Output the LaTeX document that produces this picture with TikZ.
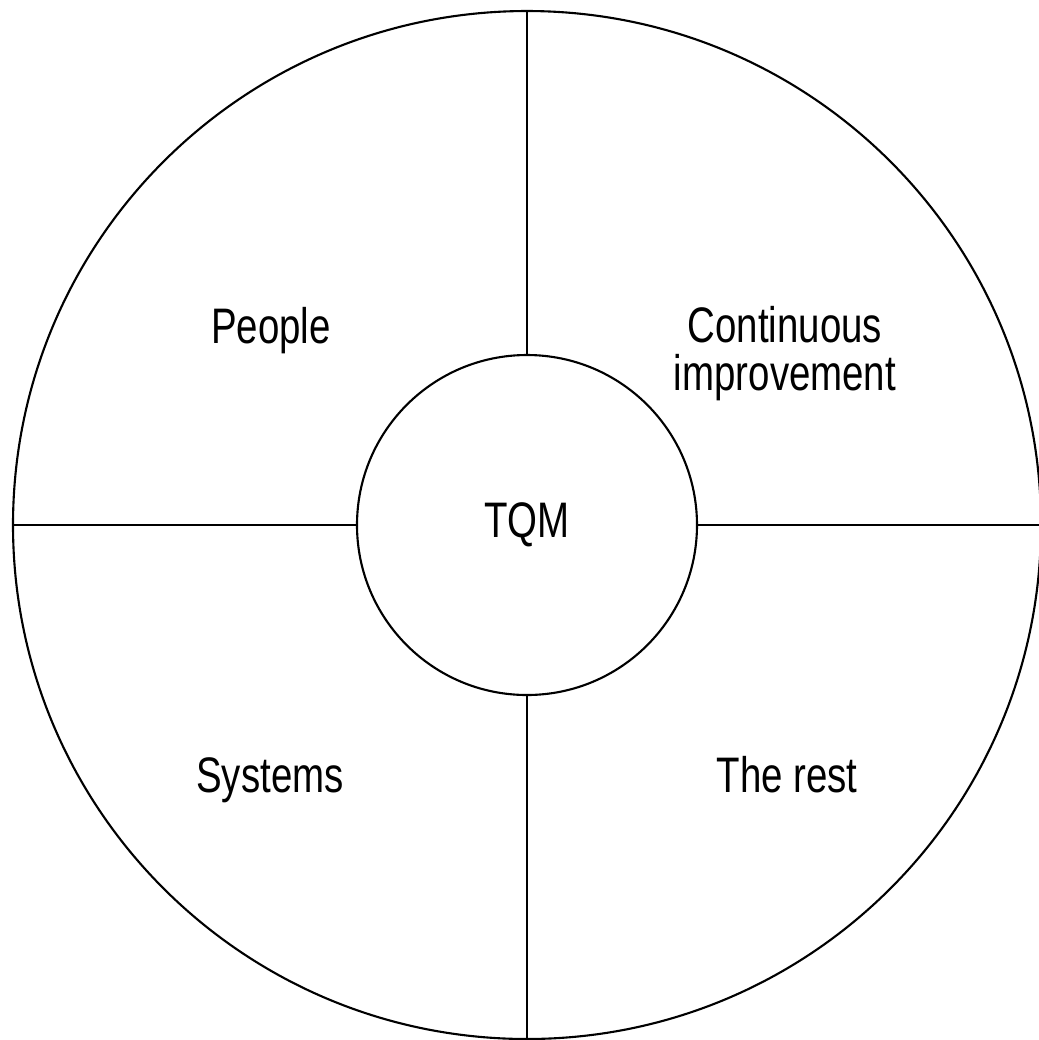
\documentclass[tikz,border=0pt]{standalone}
\usepackage{fontspec}
\setmainfont[FakeStretch=0.77]{Liberation Sans}
\usetikzlibrary{calc}

\begin{document}
\begin{tikzpicture}[
	x=0.1mm, y=-0.1mm,
	line width=0.6pt,
	ring/.style={draw, circle, inner sep=0pt},
	spoke/.style={line width=0.75pt},
	field/.style={font=\fontsize{14.2}{13.4}\selectfont, align=center}]

	\def\outerradius{51.4mm}
	\def\innerradius{17mm}

	\useasboundingbox (0,0) rectangle (1039,1040);

	\coordinate (O) at (527,525);

	\node [ring, minimum size=2*\outerradius] (outer) at (O) {};
	\node [ring, minimum size=2*\innerradius, field] (tqm) at (O) {TQM};

	\draw [spoke] (tqm.north) -- (outer.north);
	\draw [spoke] (tqm.south) -- (outer.south);
	\draw [spoke] (tqm.west) -- (outer.west);
	\draw [spoke] (tqm.east) -- (outer.east);

	% labels sit on their (last) baselines
	\node [field, anchor=base] (people) at (271,343) {People};
	\node [field, anchor=base] (improve) at (785,390) {Continuous\\improvement};
	\node [field, anchor=base] (systems) at (270,792) {Systems};
	\node [field, anchor=base] (rest) at (787,792) {The rest};

\end{tikzpicture}
\end{document}
